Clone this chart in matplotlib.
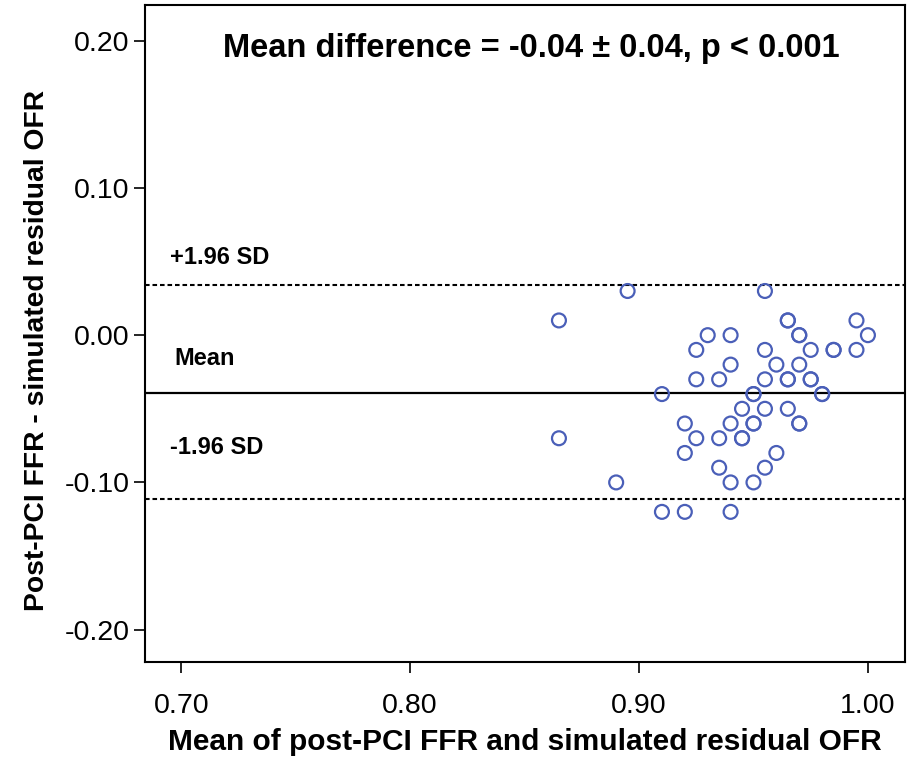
import matplotlib
matplotlib.use("Agg")
import matplotlib.pyplot as plt
import numpy as np

plt.rcParams['font.family'] = ['Liberation Sans', 'DejaVu Sans']

# Bland-Altman data: mean of the two methods (x) and difference (y)
mean_vals = [0.895, 0.865, 0.93, 0.94, 0.925, 0.94, 0.925, 0.935, 0.91, 0.92,
             0.94, 0.865, 0.925, 0.935, 0.92, 0.935, 0.89, 0.94, 0.91, 0.92,
             0.94,
             0.955, 0.965, 0.965, 0.995, 0.97, 0.97, 1.00, 0.955, 0.975, 0.985,
             0.985, 0.995, 0.96, 0.97, 0.955, 0.965, 0.965, 0.975, 0.975,
             0.95, 0.95, 0.98, 0.98, 0.945, 0.955, 0.965, 0.95, 0.95, 0.97,
             0.97, 0.945, 0.945, 0.96, 0.955, 0.95]
diff_vals = [0.03, 0.01, 0.00, 0.00, -0.01, -0.02, -0.03, -0.03, -0.04, -0.06,
             -0.06, -0.07, -0.07, -0.07, -0.08, -0.09, -0.10, -0.10, -0.12, -0.12,
             -0.12,
             0.03, 0.01, 0.01, 0.01, 0.00, 0.00, 0.00, -0.01, -0.01, -0.01,
             -0.01, -0.01, -0.02, -0.02, -0.03, -0.03, -0.03, -0.03, -0.03,
             -0.04, -0.04, -0.04, -0.04, -0.05, -0.05, -0.05, -0.06, -0.06, -0.06,
             -0.06, -0.07, -0.07, -0.08, -0.09, -0.10]

mean_diff = -0.039
upper_loa = 0.034
lower_loa = -0.111

x_ticks = [0.70, 0.80, 0.90, 1.00]
y_ticks = [0.20, 0.10, 0.00, -0.10, -0.20]

fig = plt.figure(figsize=(9.10, 7.61), dpi=100)
ax = fig.add_axes([0.159, 0.130, 0.835, 0.863])

ax.scatter(mean_vals, diff_vals, s=100, facecolors='none',
           edgecolors='#4a5fb8', linewidths=1.6, zorder=3)

ax.axhline(mean_diff, color='black', lw=1.6, zorder=2)
ax.axhline(upper_loa, color='black', lw=1.5, ls=(0, (2.2, 1.4)), zorder=2)
ax.axhline(lower_loa, color='black', lw=1.5, ls=(0, (2.2, 1.4)), zorder=2)

ax.set_xlim(0.684, 1.016)
ax.set_ylim(-0.222, 0.224)
ax.set_xticks(x_ticks)
ax.set_yticks(y_ticks)
ax.set_xticklabels([f"{v:.2f}" for v in x_ticks])
ax.set_yticklabels([f"{v:.2f}" for v in y_ticks])
ax.tick_params(axis='both', labelsize=20.5, length=8, width=1.2, direction='out')
ax.tick_params(axis='x', pad=14)
ax.tick_params(axis='y', pad=3)

for s in ax.spines.values():
    s.set_linewidth(1.5)

ax.set_xlabel("Mean of post-PCI FFR and simulated residual OFR",
              fontsize=21.5, fontweight='bold')
ax.xaxis.set_label_coords(0.5, -0.100)
ax.set_ylabel("Post-PCI FFR - simulated residual OFR",
              fontsize=20.3, fontweight='bold')
ax.yaxis.set_label_coords(-0.124, 0.474)

ax.text(0.853, 0.195, "Mean difference = -0.04 \u00b1 0.04, p < 0.001",
        ha='center', va='center', fontsize=23.5, fontweight='bold')
ax.text(0.695, 0.053, "+1.96 SD", ha='left', va='center', fontsize=17,
        fontweight='bold')
ax.text(0.697, -0.016, "Mean", ha='left', va='center', fontsize=17,
        fontweight='bold')
ax.text(0.695, -0.076, "-1.96 SD", ha='left', va='center', fontsize=17,
        fontweight='bold')

fig.savefig("out.png", dpi=100)
